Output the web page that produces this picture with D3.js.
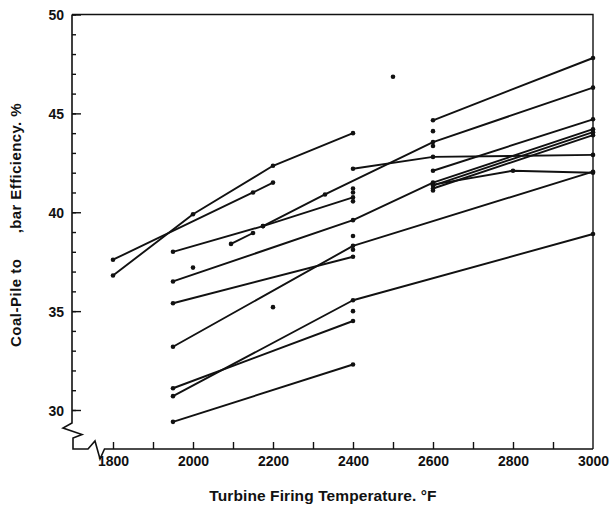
<!DOCTYPE html>
<html>
<head>
<meta charset="utf-8">
<script src="https://cdn.jsdelivr.net/npm/d3@7"></script>
<style>
  html, body { margin: 0; padding: 0; background: #fff; }
  svg { display: block; }
  text { font-family: "Liberation Sans", Arial, Helvetica, sans-serif; fill: #111; }
</style>
</head>
<body>
<svg id="chart" width="613" height="511"></svg>
<script>
// ---- data (temperature °F, efficiency %) ----
const lineA = [[1800, 36.8], [2000, 39.9], [2200, 42.35], [2400, 44.0]];
const lineB = [[1800, 37.6], [2150, 41.0], [2200, 41.5]];
const lineC1 = [[1950, 38.0], [2175, 39.3], [2400, 40.75]];
const lineC2 = [[2175, 39.3], [2330, 40.9], [2600, 43.55], [3000, 46.3]];
const lineShort = [[2095, 38.4], [2150, 38.95]];
const lineB2 = [[2400, 42.2], [2600, 42.8], [3000, 42.9]];
const lineD = [[2600, 44.65], [3000, 47.8]];
const lineE = [[2600, 42.1], [3000, 44.7]];
const lineG = [[1950, 36.5], [2400, 39.6], [2600, 41.5], [3000, 44.2]];
const lineH = [[2600, 41.35], [3000, 44.05]];
const lineI = [[2600, 41.2], [3000, 43.9]];
const lineJ = [[2600, 41.4], [2800, 42.1], [3000, 42.0]];
const lineF = [[1950, 33.2], [2400, 38.3], [3000, 42.05]];
const lineN = [[1950, 35.4], [2400, 37.75]];
const lineK = [[1950, 30.7], [2400, 35.55], [3000, 38.9]];
const lineL = [[1950, 31.1], [2400, 34.5]];
const lineM = [[1950, 29.4], [2400, 32.3]];
const allLines = [lineA, lineB, lineC1, lineC2, lineShort, lineB2, lineD, lineE,
                  lineG, lineH, lineI, lineJ, lineF, lineN, lineK, lineL, lineM];
const lonePoints = [[2000, 37.2], [2200, 35.2], [2500, 46.85], [2400, 41.2], [2400, 41.0],
                    [2400, 40.55], [2400, 38.8], [2400, 38.1], [2400, 35.0],
                    [2600, 44.1], [2600, 43.35], [2600, 41.1]];
const xTickLabels = [1800, 2000, 2200, 2400, 2600, 2800, 3000];
const xMinorTicks = d3.range(1800, 3000, 100);
const yTickLabels = [30, 35, 40, 45, 50];
const yMinorTicks = d3.range(30, 51, 1);

// ---- layout ----
const svg = d3.select("#chart");
const x = d3.scaleLinear().domain([1800, 3000]).range([113, 593]);
const y = d3.scaleLinear().domain([30, 50]).range([410, 14.5]);
const axisX = 72, axisY = 449, rightX = x(3000), topY = y(50);
const ink = "#111";

// frame: top and right
svg.append("path")
  .attr("d", `M${axisX},${topY}L${rightX},${topY}L${rightX},${axisY}`)
  .attr("fill", "none").attr("stroke", ink).attr("stroke-width", 1.4);

// left + bottom axis lines with break zigzags
svg.append("path")
  .attr("d", `M${axisX},${topY}L${axisX},423L63,428L82,434.5L73,438L73,${axisY}` +
             `L88,${axisY}L95,441L100,459L104.5,${axisY}L${rightX},${axisY}`)
  .attr("fill", "none").attr("stroke", ink).attr("stroke-width", 1.6)
  .attr("stroke-linejoin", "miter");

// y axis ticks (inward)
const gY = svg.append("g").attr("transform", `translate(${axisX},0)`);
gY.call(d3.axisLeft(y).tickValues(yMinorTicks).tickSize(-4).tickFormat(""));
gY.append("g").call(d3.axisLeft(y).tickValues(yTickLabels).tickSize(-9).tickPadding(8)
  .tickFormat(d3.format("d")));
gY.selectAll(".domain").remove();
gY.selectAll("line").attr("stroke", ink).attr("stroke-width", 1.4);
gY.selectAll("text").attr("font-size", 14).attr("font-weight", "bold")
  .attr("font-family", "'Liberation Sans', Arial, sans-serif").attr("fill", ink)
  .attr("dy", "0.36em");

// x axis ticks (inward)
const gX = svg.append("g").attr("transform", `translate(0,${axisY})`);
gX.call(d3.axisBottom(x).tickValues(xMinorTicks).tickSize(-7).tickFormat(""));
gX.append("g").call(d3.axisBottom(x).tickValues(xTickLabels).tickSize(0).tickPadding(7)
  .tickFormat(d3.format("d")));
gX.selectAll(".domain").remove();
gX.selectAll("line").attr("stroke", ink).attr("stroke-width", 1.4);
gX.selectAll("text").attr("font-size", 14).attr("font-weight", "bold")
  .attr("font-family", "'Liberation Sans', Arial, sans-serif").attr("fill", ink);

// axis titles
svg.append("text").attr("x", 323).attr("y", 501).attr("text-anchor", "middle")
  .attr("font-size", 15.5).attr("font-weight", "bold").attr("letter-spacing", 0.1)
  .text("Turbine Firing Temperature. °F");
svg.append("text").attr("transform", "translate(21,347) rotate(-90)")
  .attr("text-anchor", "start").attr("font-size", 15).attr("font-weight", "bold")
  .attr("letter-spacing", 0.5)
  .text("Coal-Pile to");
svg.append("text").attr("transform", "translate(21,103) rotate(-90)")
  .attr("text-anchor", "end").attr("font-size", 15).attr("font-weight", "bold")
  .attr("letter-spacing", 0.4)
  .text("‚bar Efficiency. %");

// data lines
const line = d3.line().x(d => x(d[0])).y(d => y(d[1]));
svg.append("g").selectAll("path").data(allLines).join("path")
  .attr("d", line).attr("fill", "none").attr("stroke", ink)
  .attr("stroke-width", 1.9).attr("stroke-linejoin", "round");

// data points
const pts = allLines.flat().concat(lonePoints);
svg.append("g").selectAll("circle").data(pts).join("circle")
  .attr("cx", d => x(d[0])).attr("cy", d => y(d[1])).attr("r", 2.3).attr("fill", ink);
</script>
</body>
</html>
